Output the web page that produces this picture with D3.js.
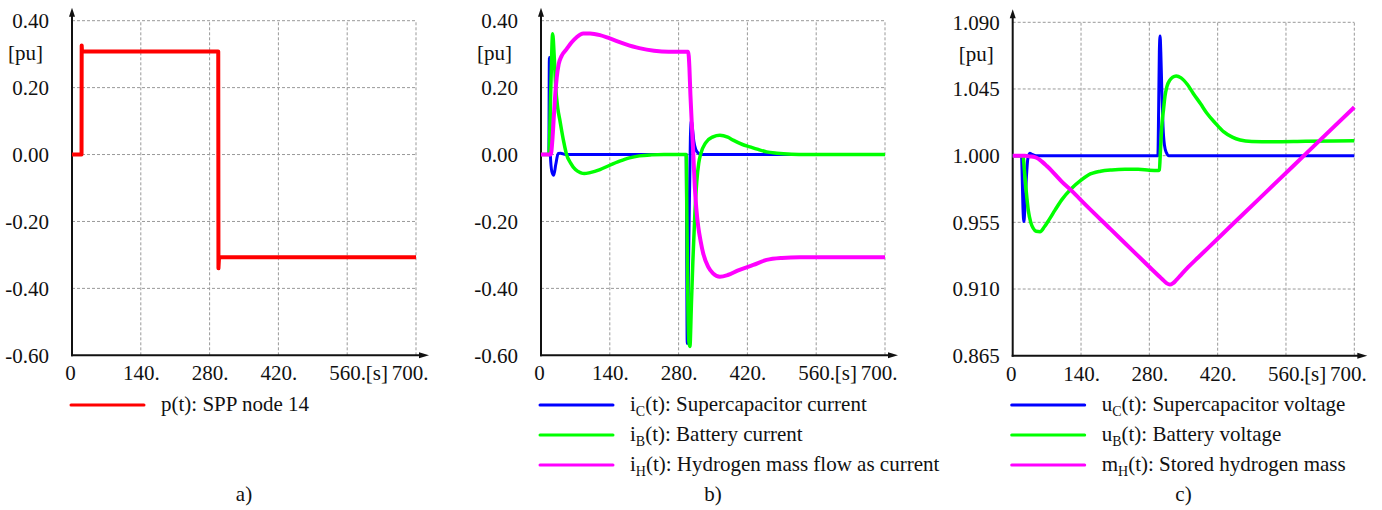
<!DOCTYPE html>
<html>
<head>
<meta charset="utf-8">
<script src="https://cdn.jsdelivr.net/npm/d3@7"></script>
<style>
  body { margin: 0; background: #fff; }
</style>
</head>
<body>
<svg width="1382" height="510"></svg>
<script>
// time axis
var xTicks = [0, 140, 280, 420, 560, 700];
var yTicksAB = [-0.6, -0.4, -0.2, 0, 0.2, 0.4];
var yTicksC = [0.865, 0.910, 0.955, 1.000, 1.045, 1.090];

// a) SPP node 14
var pT = [0, 19.4, 19.7, 20.3, 22, 297.6, 298, 299, 302, 700];
var pV = [0, 0, 0.326, 0.309, 0.308, 0.308, -0.340, -0.312, -0.307, -0.307];

// b) currents
var icT = [0, 16, 17, 19, 22, 26, 30, 35, 40, 50, 295.5, 296.5, 297.5, 301, 304, 306, 308, 311, 315, 320, 326, 700];
var icV = [0, 0, 0.29, 0.0, -0.05, -0.062, -0.03, 0.003, 0.004, 0, 0, -0.3, -0.565, -0.25, 0.05, 0.102, 0.08, 0.04, 0.015, 0.004, 0, 0];

var ibT = [0, 16, 20, 23.7, 27, 30, 34, 38.7, 46, 52, 60, 70, 80, 88, 100, 120, 140, 160, 180, 200, 225, 250,
           295.5, 297, 299, 301, 303, 306, 309, 313, 317, 321, 325, 335, 350, 364, 380, 391, 410, 425, 440, 459, 480, 510, 540, 700];
var ibV = [0, 0, 0.2, 0.361, 0.29, 0.2, 0.14, 0.1, 0.04, 0, -0.025, -0.045, -0.054, -0.057, -0.054, -0.045, -0.032, -0.02, -0.01, -0.004, -0.001, 0,
           0, -0.2, -0.45, -0.56, -0.574, -0.45, -0.32, -0.18, -0.08, -0.025, 0.002, 0.035, 0.053, 0.058, 0.052, 0.043, 0.03, 0.023, 0.016, 0.008, 0.004, 0.001, 0, 0];

var ihT = [0, 20, 23, 26, 29, 32, 36, 42, 52, 62, 72, 86, 100, 120, 140, 170, 200, 230, 260, 299.5,
           302, 304, 306.6, 310, 313, 316, 320, 325, 330, 340, 350, 364, 380, 400, 432, 459, 490, 527, 700];
var ihV = [0, 0, 0.04, 0.11, 0.18, 0.23, 0.27, 0.295, 0.315, 0.335, 0.35, 0.362, 0.362, 0.357, 0.347, 0.331, 0.318, 0.31, 0.307, 0.307,
           0.26, 0.18, 0.10, 0.0, -0.097, -0.16, -0.216, -0.26, -0.295, -0.335, -0.355, -0.365, -0.36, -0.347, -0.33, -0.315, -0.309, -0.307, -0.307];

// c) voltages and stored mass
var ucT = [0, 18, 19.5, 21, 23, 25, 28, 31, 35, 40, 48, 297.5, 299, 300.5, 302, 303.5, 305.5, 308, 311, 315, 320, 700];
var ucV = [1, 1, 0.985, 0.965, 0.9555, 0.965, 0.985, 0.998, 1.0016, 1.0008, 1, 1, 1.03, 1.07, 1.0808, 1.07, 1.045, 1.02, 1.007, 1.002, 1, 1];

var ubT = [0, 21, 24, 28, 32, 37, 42, 48, 56, 65, 75, 87, 100, 121, 140, 155, 180, 203, 230, 257, 280, 298.5,
           300.5, 303, 306, 309, 312, 316, 322, 328, 335, 345, 358, 370, 385, 398, 415, 432, 450, 466, 490, 534, 600, 700];
var ubV = [1, 1, 0.99, 0.975, 0.963, 0.955, 0.951, 0.949, 0.9487, 0.952, 0.957, 0.9634, 0.97, 0.978, 0.9835, 0.987, 0.9895, 0.9904, 0.9908, 0.9908, 0.9902, 0.990,
           0.9905, 1.005, 1.022, 1.031, 1.04, 1.0466, 1.051, 1.053, 1.0538, 1.0525, 1.048, 1.042, 1.035, 1.0286, 1.022, 1.0162, 1.0125, 1.0106, 1.0096, 1.0094, 1.0097, 1.0100];

var mhT = [0, 25, 35, 45, 52, 60, 70, 80, 90, 100, 121, 150, 200, 250, 300, 310, 316, 322, 328, 335, 345, 360, 380, 400, 450, 500, 550, 600, 650, 700];
var mhV = [1, 1, 0.9995, 0.999, 0.998, 0.996, 0.993, 0.9898, 0.9862, 0.9826, 0.9762, 0.9666, 0.9506, 0.9346, 0.9186, 0.9155, 0.9138, 0.9130, 0.9138, 0.9160, 0.9196, 0.9249, 0.9313, 0.9376, 0.9535, 0.9693, 0.9852, 1.0010, 1.0169, 1.0327];

var svg = d3.select("svg");
var serif = "'Liberation Serif'";

function zip(t, v) { return t.map(function(d, i) { return [d, v[i]]; }); }

function drawPanel(cfg) {
  var g = svg.append("g");
  var x = d3.scaleLinear().domain([0, 700]).range([cfg.x0, cfg.x1]);
  var y = d3.scaleLinear().domain([cfg.yTicks[0], cfg.yTicks[cfg.yTicks.length - 1]]).range([cfg.yBottom, cfg.yTop]);

  // grid
  g.selectAll(".vg").data(xTicks.slice(1)).enter().append("line")
      .attr("x1", x).attr("x2", x)
      .attr("y1", cfg.yBottom).attr("y2", cfg.yTop)
      .attr("stroke", "#999").attr("stroke-width", 1).attr("stroke-dasharray", "3,2");
  g.selectAll(".hg").data(cfg.yTicks.slice(1)).enter().append("line")
      .attr("x1", cfg.x0).attr("x2", cfg.x1)
      .attr("y1", y).attr("y2", y)
      .attr("stroke", "#999").attr("stroke-width", 1).attr("stroke-dasharray", "3,2");

  // tick labels through d3 axes (plain hyphen for negatives)
  var ya = g.append("g").attr("transform", "translate(" + cfg.x0 + ",0)")
      .call(d3.axisLeft(y).tickValues(cfg.yTicks).tickSize(0).tickPadding(cfg.gap)
        .tickFormat(function(d) { return d.toFixed(cfg.digits); }));
  ya.select(".domain").remove();

  var xa = g.append("g").attr("transform", "translate(0," + cfg.yBottom + ")")
      .call(d3.axisBottom(x).tickValues(xTicks).tickSize(0).tickPadding(10)
        .tickFormat(function(d) { return d === 0 ? "0" : d + "."; }));
  xa.select(".domain").remove();
  xa.selectAll(".tick text").filter(function(d) { return d === 0; }).attr("x", -2);
  xa.selectAll(".tick text").filter(function(d) { return d === 700; })
      .attr("text-anchor", "end").attr("x", 12);
  g.append("text").attr("x", cfg.x1 - 28).attr("y", cfg.yBottom + 25)
      .attr("text-anchor", "end").text("[s]");

  g.append("text").attr("x", cfg.x0 - cfg.gap - 6).attr("y", cfg.yTop + 39)
      .attr("text-anchor", "end").text("[pu]");

  // axes with arrows
  g.append("line").attr("x1", cfg.x0).attr("x2", cfg.x0)
      .attr("y1", cfg.yBottom + 1).attr("y2", cfg.yTop - 6)
      .attr("stroke", "#111").attr("stroke-width", 2);
  g.append("path")
      .attr("d", "M" + cfg.x0 + "," + (cfg.yTop - 13) + "L" + (cfg.x0 - 3) + "," + (cfg.yTop - 4) + "L" + (cfg.x0 + 3) + "," + (cfg.yTop - 4) + "Z")
      .attr("fill", "#111");
  g.append("line").attr("x1", cfg.x0 - 1).attr("x2", cfg.x1 + 5)
      .attr("y1", cfg.yBottom).attr("y2", cfg.yBottom)
      .attr("stroke", "#111").attr("stroke-width", 2);
  g.append("path")
      .attr("d", "M" + (cfg.x1 + 13) + "," + cfg.yBottom + "L" + (cfg.x1 + 3) + "," + (cfg.yBottom - 3) + "L" + (cfg.x1 + 3) + "," + (cfg.yBottom + 3) + "Z")
      .attr("fill", "#111");

  // curves
  var line = d3.line()
      .x(function(d) { return x(d[0]); })
      .y(function(d) { return y(d[1]); })
      .curve(cfg.curve || d3.curveMonotoneX);
  cfg.series.forEach(function(s) {
    g.append("path").datum(zip(s.t, s.v))
        .attr("fill", "none").attr("stroke", s.color)
        .attr("stroke-width", s.width || 3.5)
        .attr("stroke-linejoin", "round")
        .attr("d", line);
  });

  // legend
  cfg.series.forEach(function(s, i) {
    var ly = 405 + i * 30;
    g.append("line").attr("x1", cfg.x0 - 1).attr("x2", cfg.x0 + 72)
        .attr("y1", ly).attr("y2", ly)
        .attr("stroke", s.color).attr("stroke-width", 3).attr("stroke-linecap", "round");
    var t = g.append("text").attr("x", cfg.x0 + 89).attr("y", ly + 6);
    t.append("tspan").text(s.label[0]);
    if (s.label[1]) {
      t.append("tspan").style("font-size", "14px").attr("dy", 5).text(s.label[1]);
      t.append("tspan").attr("dy", -5).text(s.label[2]);
    }
  });

  g.append("text").attr("x", (cfg.x0 + cfg.x1) / 2).attr("y", 501)
      .attr("text-anchor", "middle").text(cfg.tag);
}

drawPanel({
  x0: 72, x1: 416, yTop: 20.7, yBottom: 355.3, gap: 23,
  yTicks: yTicksAB, digits: 2, tag: "a)", curve: d3.curveLinear,
  series: [
    { t: pT, v: pV, color: "#ff0000", width: 4, label: ["p(t): SPP node 14"] }
  ]
});

drawPanel({
  x0: 541, x1: 885, yTop: 20.7, yBottom: 355.3, gap: 23,
  yTicks: yTicksAB, digits: 2, tag: "b)",
  series: [
    { t: icT, v: icV, color: "#0000ff", width: 3, label: ["i", "C", "(t): Supercapacitor current"] },
    { t: ibT, v: ibV, color: "#00ff00", label: ["i", "B", "(t): Battery current"] },
    { t: ihT, v: ihV, color: "#ff00ff", width: 4, label: ["i", "H", "(t): Hydrogen mass flow as current"] }
  ]
});

drawPanel({
  x0: 1012.7, x1: 1354.3, yTop: 22.3, yBottom: 355.7, gap: 13,
  yTicks: yTicksC, digits: 3, tag: "c)",
  series: [
    { t: ucT, v: ucV, color: "#0000ff", width: 3, label: ["u", "C", "(t): Supercapacitor voltage"] },
    { t: ubT, v: ubV, color: "#00ff00", label: ["u", "B", "(t): Battery voltage"] },
    { t: mhT, v: mhV, color: "#ff00ff", width: 4, label: ["m", "H", "(t): Stored hydrogen mass"] }
  ]
});

// one font for every text, set on the elements themselves
svg.selectAll("text")
    .style("font-family", serif)
    .style("fill", "#111");
svg.selectAll("text").filter(function() { return !this.style.fontSize; })
    .style("font-size", "21px");
</script>
</body>
</html>
